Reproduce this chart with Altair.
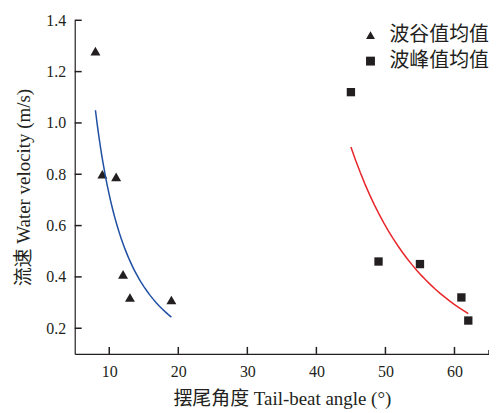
import altair as alt
import pandas as pd

# data
trough_angle = [8, 9, 11, 12, 13, 19]
trough_speed = [1.28, 0.80, 0.79, 0.41, 0.32, 0.31]
peak_angle = [45, 49, 55, 61, 62]
peak_speed = [1.12, 0.46, 0.45, 0.32, 0.23]
series_names = ["波谷值均值", "波峰值均值"]
x_ticks = [10, 20, 30, 40, 50, 60]
y_ticks = [0.2, 0.4, 0.6, 0.8, 1.0, 1.2, 1.4]
x_end = [65]

df = pd.DataFrame({
    "angle": trough_angle + peak_angle,
    "speed": trough_speed + peak_speed,
    "series": [series_names[0]] * len(trough_angle) + [series_names[1]] * len(peak_angle),
})

FONT = "Liberation Serif, Noto Sans CJK SC"
INK = "#231f20"
W, H = 416, 335

xscale = alt.Scale(domain=[5, 65], nice=False, zero=False)
yscale = alt.Scale(domain=[0.1, 1.4], nice=False, zero=False)

common_axis = dict(ticks=False, grid=False, domainColor=INK, domainWidth=1.2,
                   labelFont="Liberation Serif", labelFontSize=16, labelColor=INK,
                   titleFont=FONT, titleFontSize=19, titleFontWeight="normal", titleColor=INK)
xaxis = alt.Axis(values=x_ticks, title="摆尾角度 Tail-beat angle (°)",
                 labelPadding=10, titleY=51, titleBaseline="alphabetic", **common_axis)
yaxis = alt.Axis(values=y_ticks, format=".1f", title="流速 Water velocity (m/s)",
                 labelPadding=9, titleX=-45, titleBaseline="alphabetic", **common_axis)

shape_enc = alt.Shape(
    "series:N",
    scale=alt.Scale(domain=series_names, range=["triangle-up", "square"]),
    legend=alt.Legend(title=None, orient="none", legendX=287, legendY=5,
                      symbolSize=80, symbolFillColor=INK, symbolStrokeColor=INK, symbolStrokeWidth=0,
                      labelFont=FONT, labelFontSize=20, labelColor=INK,
                      labelOffset=9, rowPadding=6, padding=0),
)

base = alt.Chart(df)

lines = base.transform_regression(
    "angle", "speed", method="pow", groupby=["series"]
).mark_line(strokeWidth=1.5).encode(
    x=alt.X("angle:Q", scale=xscale, axis=xaxis),
    y=alt.Y("speed:Q", scale=yscale, axis=yaxis),
    color=alt.Color("series:N", scale=alt.Scale(domain=series_names, range=["#1f4fa3", "#e8262a"]), legend=None),
)

tri = base.transform_filter(alt.datum.series == series_names[0]).mark_point(
    filled=True, opacity=1, color=INK, size=100
).encode(
    x=alt.X("angle:Q", scale=xscale, axis=xaxis),
    y=alt.Y("speed:Q", scale=yscale, axis=yaxis),
    shape=shape_enc,
)
sq = base.transform_filter(alt.datum.series == series_names[1]).mark_point(
    filled=True, opacity=1, color=INK, size=70
).encode(
    x=alt.X("angle:Q", scale=xscale, axis=xaxis),
    y=alt.Y("speed:Q", scale=yscale, axis=yaxis),
    shape=shape_enc,
)

xt = alt.Chart(pd.DataFrame({"angle": x_ticks})).mark_rule(color=INK, strokeWidth=1.5).encode(
    x=alt.X("angle:Q", scale=xscale, axis=xaxis),
    y=alt.value(H), y2=alt.value(H - 7),
)
xe = alt.Chart(pd.DataFrame({"angle": x_end})).mark_rule(color=INK, strokeWidth=1.5).encode(
    x=alt.X("angle:Q", scale=xscale, axis=xaxis),
    y=alt.value(H), y2=alt.value(H - 4),
)
yt = alt.Chart(pd.DataFrame({"speed": y_ticks})).mark_rule(color=INK, strokeWidth=1.5).encode(
    y=alt.Y("speed:Q", scale=yscale, axis=yaxis),
    x=alt.value(0), x2=alt.value(7),
)

chart = alt.layer(tri, sq, lines, xt, xe, yt).properties(
    width=W, height=H,
    autosize=alt.AutoSizeParams(type="none"),
    padding={"left": 67, "top": 11.5, "right": 0, "bottom": 55},
).configure_view(stroke=None)

chart.save("out.html", embed_options={"renderer": "svg", "actions": False})
